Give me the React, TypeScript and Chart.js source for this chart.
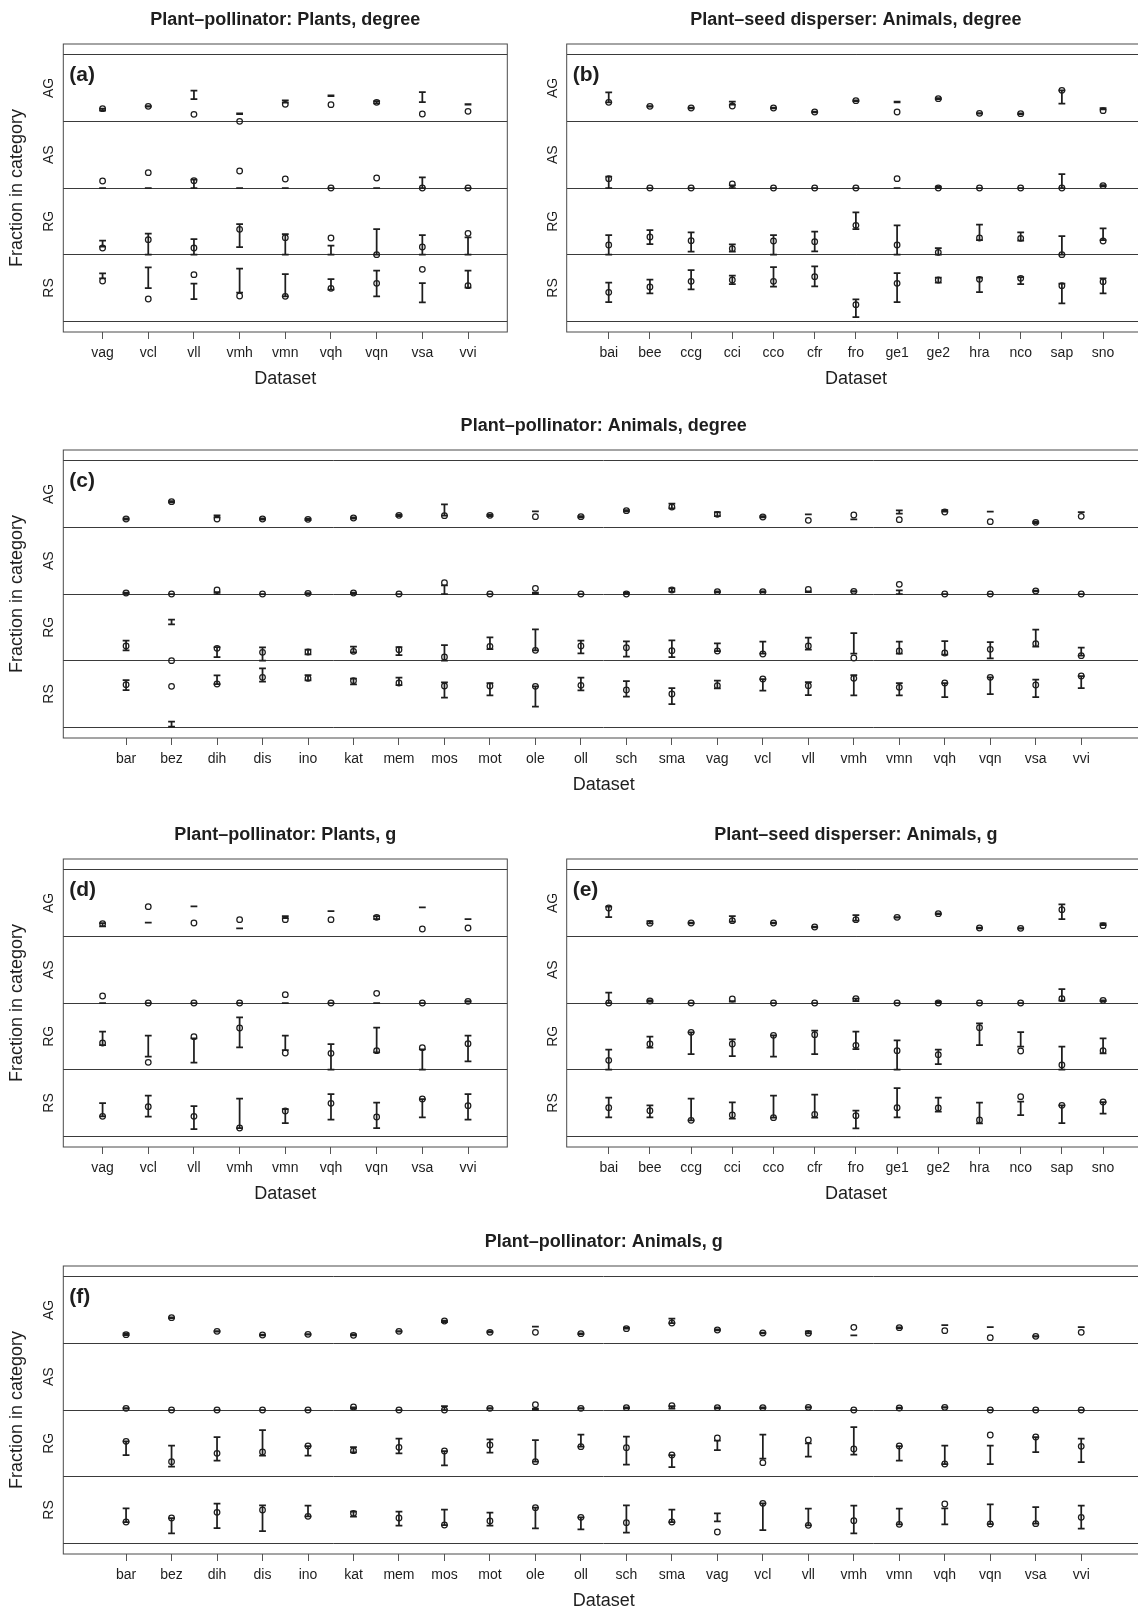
import React, { useEffect, useRef } from "react";
import { Chart, registerables } from "chart.js";

Chart.register(...registerables);

const FONT = "'Liberation Sans', Arial, Helvetica, sans-serif";
const INK = "#1e1e1e";
const LINE = "#3a3a3a";

// ---------- Panel (a): Plant-pollinator, Plants, degree ----------
const aCats = ["vag", "vcl", "vll", "vmh", "vmn", "vqh", "vqn", "vsa", "vvi"];
const aAGobs = [0.19, 0.225, 0.105, 0.0, 0.255, 0.25, 0.285, 0.11, 0.15];
const aAGlo = [0.16, 0.22, 0.335, 0.11, 0.28, 0.38, 0.27, 0.29, 0.25];
const aAGhi = [0.19, 0.23, 0.46, 0.12, 0.315, 0.39, 0.305, 0.44, 0.26];
const aASobs = [0.105, 0.23, 0.11, 0.255, 0.135, 0, 0.15, 0, 0];
const aASlo = [0, 0, 0, 0, 0, 0, 0, 0, 0];
const aAShi = [0, 0, 0.125, 0, 0, 0, 0, 0.16, 0];
const aRGobs = [0.1, 0.225, 0.1, 0.38, 0.255, 0.25, 0, 0.115, 0.32];
const aRGlo = [0.12, 0, 0, 0.115, 0, 0, 0, 0, 0];
const aRGhi = [0.21, 0.315, 0.235, 0.46, 0.31, 0.135, 0.385, 0.295, 0.26];
const aRSobs = [0.605, 0.335, 0.7, 0.38, 0.375, 0.495, 0.57, 0.78, 0.535];
const aRSlo = [0.645, 0.5, 0.335, 0.43, 0.375, 0.475, 0.375, 0.285, 0.505];
const aRShi = [0.72, 0.81, 0.565, 0.79, 0.71, 0.635, 0.76, 0.575, 0.76];

// ---------- Panel (b): Plant-seed disperser, Animals, degree ----------
const bCats = ["bai", "bee", "ccg", "cci", "cco", "cfr", "fro", "ge1", "ge2", "hra", "nco", "sap", "sno"];
const bAGobs = [0.285, 0.225, 0.2, 0.23, 0.2, 0.14, 0.31, 0.14, 0.34, 0.12, 0.115, 0.465, 0.16];
const bAGlo = [0.285, 0.22, 0.195, 0.25, 0.195, 0.135, 0.305, 0.285, 0.335, 0.115, 0.11, 0.265, 0.18];
const bAGhi = [0.435, 0.23, 0.205, 0.295, 0.205, 0.145, 0.315, 0.295, 0.35, 0.125, 0.12, 0.465, 0.2];
const bASobs = [0.14, 0, 0, 0.06, 0, 0, 0, 0.14, 0, 0, 0, 0, 0.035];
const bASlo = [0, 0, 0, 0, 0, 0, 0, 0, 0, 0, 0, 0, 0.03];
const bAShi = [0.17, 0, 0, 0.04, 0, 0, 0, 0, 0.02, 0, 0, 0.21, 0.045];
const bRGobs = [0.145, 0.265, 0.21, 0.09, 0.205, 0.195, 0.44, 0.145, 0.035, 0.25, 0.245, 0, 0.205];
const bRGlo = [0, 0.16, 0.045, 0.045, 0, 0.05, 0.385, 0, 0, 0.22, 0.21, 0, 0.22];
const bRGhi = [0.295, 0.37, 0.335, 0.155, 0.295, 0.345, 0.635, 0.44, 0.1, 0.45, 0.335, 0.28, 0.395];
const bRSobs = [0.435, 0.515, 0.6, 0.62, 0.6, 0.67, 0.25, 0.57, 0.62, 0.63, 0.645, 0.535, 0.595];
const bRSlo = [0.29, 0.42, 0.48, 0.56, 0.52, 0.525, 0.065, 0.29, 0.58, 0.44, 0.56, 0.27, 0.42];
const bRShi = [0.58, 0.625, 0.77, 0.685, 0.815, 0.825, 0.33, 0.725, 0.655, 0.655, 0.665, 0.565, 0.645];

// ---------- Panel (c): Plant-pollinator, Animals, degree ----------
const cCats = ["bar", "bez", "dih", "dis", "ino", "kat", "mem", "mos", "mot", "ole", "oll", "sch", "sma", "vag", "vcl", "vll", "vmh", "vmn", "vqh", "vqn", "vsa", "vvi"];
const cAGobs = [0.125, 0.385, 0.125, 0.125, 0.12, 0.14, 0.18, 0.175, 0.18, 0.16, 0.16, 0.25, 0.305, 0.195, 0.155, 0.105, 0.185, 0.115, 0.23, 0.085, 0.075, 0.165];
const cAGlo = [0.115, 0.375, 0.15, 0.115, 0.11, 0.13, 0.17, 0.175, 0.17, 0.24, 0.15, 0.24, 0.285, 0.17, 0.15, 0.195, 0.12, 0.205, 0.235, 0.235, 0.065, 0.23];
const cAGhi = [0.135, 0.395, 0.18, 0.135, 0.13, 0.15, 0.19, 0.345, 0.19, 0.24, 0.17, 0.26, 0.355, 0.23, 0.17, 0.195, 0.12, 0.255, 0.26, 0.235, 0.085, 0.23];
const cASobs = [0.015, 0, 0.06, 0, 0.01, 0.015, 0, 0.17, 0, 0.085, 0, 0, 0.06, 0.035, 0.035, 0.07, 0.04, 0.145, 0, 0, 0.045, 0];
const cASlo = [0.005, 0, 0, 0, 0, 0.005, 0, 0, 0, 0, 0, 0, 0.035, 0.03, 0.03, 0.03, 0.035, 0, 0, 0, 0.04, 0];
const cAShi = [0.02, 0, 0.03, 0, 0.015, 0.02, 0, 0.13, 0, 0.02, 0, 0.02, 0.085, 0.04, 0.04, 0.04, 0.045, 0.055, 0, 0, 0.05, 0];
const cRGobs = [0.22, 0, 0.185, 0.125, 0.13, 0.14, 0.165, 0.055, 0.215, 0.155, 0.22, 0.195, 0.15, 0.145, 0.1, 0.22, 0.04, 0.145, 0.115, 0.17, 0.255, 0.075];
const cRGlo = [0.155, 0.545, 0.055, 0, 0.095, 0.125, 0.085, 0, 0.175, 0.155, 0.11, 0.06, 0.055, 0.145, 0.105, 0.165, 0.105, 0.105, 0.09, 0.035, 0.21, 0.075];
const cRGhi = [0.3, 0.615, 0.205, 0.2, 0.165, 0.21, 0.205, 0.235, 0.35, 0.47, 0.3, 0.29, 0.305, 0.26, 0.285, 0.345, 0.415, 0.285, 0.295, 0.28, 0.465, 0.195];
const cRSobs = [0.64, 0.615, 0.65, 0.75, 0.735, 0.7, 0.665, 0.62, 0.62, 0.615, 0.63, 0.56, 0.5, 0.625, 0.725, 0.625, 0.735, 0.6, 0.665, 0.75, 0.635, 0.77];
const cRSlo = [0.56, 0.01, 0.65, 0.685, 0.705, 0.645, 0.635, 0.445, 0.48, 0.31, 0.555, 0.46, 0.35, 0.585, 0.55, 0.485, 0.48, 0.48, 0.455, 0.5, 0.455, 0.59];
const cRShi = [0.71, 0.085, 0.78, 0.885, 0.785, 0.73, 0.745, 0.675, 0.665, 0.615, 0.745, 0.695, 0.59, 0.7, 0.725, 0.68, 0.785, 0.665, 0.665, 0.75, 0.715, 0.77];

// ---------- Panel (d): Plant-pollinator, Plants, g ----------
const dCats = ["vag", "vcl", "vll", "vmh", "vmn", "vqh", "vqn", "vsa", "vvi"];
const dAGobs = [0.19, 0.445, 0.2, 0.25, 0.25, 0.25, 0.285, 0.11, 0.125];
const dAGlo = [0.15, 0.205, 0.45, 0.12, 0.275, 0.38, 0.26, 0.435, 0.26];
const dAGhi = [0.2, 0.205, 0.45, 0.12, 0.305, 0.38, 0.305, 0.435, 0.26];
const dASobs = [0.105, 0, 0, 0, 0.125, 0, 0.145, 0, 0.025];
const dASlo = [0, 0, 0, 0, 0, 0, 0, 0, 0.02];
const dAShi = [0, 0, 0, 0, 0, 0, 0, 0, 0.03];
const dRGobs = [0.4, 0.11, 0.495, 0.625, 0.25, 0.245, 0.285, 0.33, 0.39];
const dRGlo = [0.37, 0.195, 0.105, 0.335, 0.295, 0, 0.26, 0, 0.125];
const dRGhi = [0.57, 0.51, 0.47, 0.785, 0.51, 0.385, 0.63, 0.305, 0.51];
const dRSobs = [0.3, 0.445, 0.3, 0.125, 0.38, 0.495, 0.29, 0.56, 0.46];
const dRSlo = [0.3, 0.295, 0.11, 0.125, 0.2, 0.25, 0.125, 0.285, 0.25];
const dRShi = [0.5, 0.61, 0.455, 0.565, 0.41, 0.635, 0.505, 0.56, 0.635];

// ---------- Panel (e): Plant-seed disperser, Animals, g ----------
const eCats = ["bai", "bee", "ccg", "cci", "cco", "cfr", "fro", "ge1", "ge2", "hra", "nco", "sap", "sno"];
const eAGobs = [0.425, 0.195, 0.2, 0.235, 0.2, 0.14, 0.25, 0.285, 0.34, 0.125, 0.12, 0.4, 0.16];
const eAGlo = [0.29, 0.195, 0.195, 0.22, 0.195, 0.135, 0.235, 0.28, 0.335, 0.12, 0.115, 0.26, 0.17];
const eAGhi = [0.445, 0.23, 0.205, 0.305, 0.205, 0.145, 0.32, 0.29, 0.345, 0.13, 0.125, 0.48, 0.195];
const eASobs = [0, 0.03, 0, 0.06, 0, 0, 0.065, 0, 0, 0, 0, 0.065, 0.04];
const eASlo = [0, 0.02, 0, 0.02, 0, 0, 0.03, 0, 0, 0, 0, 0.035, 0.03];
const eAShi = [0.155, 0.04, 0, 0.03, 0, 0, 0.065, 0, 0.02, 0, 0, 0.21, 0.04];
const eRGobs = [0.14, 0.385, 0.56, 0.385, 0.515, 0.525, 0.365, 0.285, 0.225, 0.63, 0.28, 0.07, 0.285];
const eRGlo = [0, 0.33, 0.235, 0.205, 0.195, 0.235, 0.31, 0, 0.085, 0.37, 0.345, 0, 0.245];
const eRGhi = [0.3, 0.495, 0.56, 0.455, 0.515, 0.585, 0.57, 0.44, 0.3, 0.695, 0.565, 0.345, 0.47];
const eRSobs = [0.43, 0.385, 0.24, 0.32, 0.28, 0.33, 0.31, 0.43, 0.425, 0.245, 0.595, 0.465, 0.515];
const eRSlo = [0.285, 0.285, 0.24, 0.265, 0.28, 0.28, 0.12, 0.285, 0.37, 0.195, 0.32, 0.2, 0.34];
const eRShi = [0.58, 0.465, 0.565, 0.51, 0.61, 0.625, 0.385, 0.725, 0.58, 0.505, 0.52, 0.465, 0.515];

// ---------- Panel (f): Plant-pollinator, Animals, g ----------
const fCats = ["bar", "bez", "dih", "dis", "ino", "kat", "mem", "mos", "mot", "ole", "oll", "sch", "sma", "vag", "vcl", "vll", "vmh", "vmn", "vqh", "vqn", "vsa", "vvi"];
const fAGobs = [0.13, 0.385, 0.18, 0.125, 0.135, 0.12, 0.18, 0.335, 0.165, 0.165, 0.145, 0.22, 0.305, 0.2, 0.155, 0.15, 0.24, 0.235, 0.19, 0.085, 0.105, 0.165];
const fAGlo = [0.125, 0.38, 0.175, 0.12, 0.13, 0.12, 0.175, 0.32, 0.165, 0.25, 0.14, 0.22, 0.305, 0.195, 0.15, 0.15, 0.12, 0.23, 0.275, 0.245, 0.1, 0.245];
const fAGhi = [0.15, 0.39, 0.185, 0.13, 0.14, 0.135, 0.185, 0.34, 0.18, 0.25, 0.15, 0.235, 0.37, 0.21, 0.16, 0.18, 0.12, 0.24, 0.275, 0.245, 0.11, 0.245];
const fASobs = [0.025, 0, 0, 0, 0, 0.045, 0, 0, 0.025, 0.08, 0.025, 0.035, 0.065, 0.035, 0.035, 0.04, 0, 0.03, 0.04, 0, 0, 0];
const fASlo = [0.02, 0, 0, 0, 0, 0.02, 0, 0, 0.02, 0, 0.02, 0.03, 0.02, 0.03, 0.03, 0.035, 0, 0.025, 0.035, 0, 0, 0];
const fAShi = [0.03, 0, 0, 0, 0, 0.04, 0, 0.06, 0.03, 0.02, 0.03, 0.04, 0.06, 0.04, 0.04, 0.045, 0, 0.035, 0.045, 0, 0, 0];
const fRGobs = [0.53, 0.225, 0.35, 0.37, 0.46, 0.39, 0.44, 0.385, 0.475, 0.225, 0.45, 0.435, 0.325, 0.58, 0.21, 0.55, 0.415, 0.46, 0.19, 0.625, 0.595, 0.455];
const fRGlo = [0.325, 0.15, 0.24, 0.315, 0.315, 0.365, 0.35, 0.17, 0.36, 0.225, 0.45, 0.18, 0.145, 0.4, 0.27, 0.3, 0.33, 0.24, 0.19, 0.19, 0.37, 0.22];
const fRGhi = [0.53, 0.465, 0.595, 0.7, 0.46, 0.445, 0.57, 0.385, 0.56, 0.55, 0.63, 0.6, 0.325, 0.54, 0.63, 0.5, 0.745, 0.46, 0.465, 0.465, 0.595, 0.57];
const fRSobs = [0.32, 0.38, 0.465, 0.5, 0.405, 0.45, 0.38, 0.275, 0.335, 0.535, 0.39, 0.31, 0.32, 0.17, 0.6, 0.27, 0.34, 0.285, 0.59, 0.29, 0.295, 0.39];
const fRSlo = [0.32, 0.15, 0.23, 0.185, 0.405, 0.4, 0.265, 0.275, 0.265, 0.225, 0.21, 0.16, 0.32, 0.33, 0.2, 0.27, 0.15, 0.285, 0.285, 0.29, 0.295, 0.22];
const fRShi = [0.525, 0.38, 0.595, 0.57, 0.565, 0.475, 0.475, 0.505, 0.46, 0.535, 0.39, 0.57, 0.505, 0.45, 0.6, 0.52, 0.565, 0.52, 0.525, 0.585, 0.545, 0.565];

// Bands from bottom (offset 0) to top (offset 3)
const BAND_NAMES = ["RS", "RG", "AS", "AG"];

type Band = { obs: number[]; lo: number[]; hi: number[] };

type PanelSpec = {
  title: string;
  letter: string;
  cats: string[];
  bands: Band[]; // order RS, RG, AS, AG
  canvasLeft: number;
  canvasTop: number;
  canvasWidth: number;
  boxLeft: number;
  boxRight: number;
  yTitle: boolean;
};

const CANVAS_H = 400;
const BOX_TOP = 44;
const BOX_BOTTOM = 332;
const ROWS = [0, 406, 815, 1222];

const PANELS: PanelSpec[] = [
  {
    title: "Plant\u2013pollinator: Plants, degree", letter: "(a)", cats: aCats,
    bands: [
      { obs: aRSobs, lo: aRSlo, hi: aRShi }, { obs: aRGobs, lo: aRGlo, hi: aRGhi },
      { obs: aASobs, lo: aASlo, hi: aAShi }, { obs: aAGobs, lo: aAGlo, hi: aAGhi },
    ],
    canvasLeft: 0, canvasTop: ROWS[0], canvasWidth: 540, boxLeft: 63.3, boxRight: 507.3, yTitle: true,
  },
  {
    title: "Plant\u2013seed disperser: Animals, degree", letter: "(b)", cats: bCats,
    bands: [
      { obs: bRSobs, lo: bRSlo, hi: bRShi }, { obs: bRGobs, lo: bRGlo, hi: bRGhi },
      { obs: bASobs, lo: bASlo, hi: bAShi }, { obs: bAGobs, lo: bAGlo, hi: bAGhi },
    ],
    canvasLeft: 530, canvasTop: ROWS[0], canvasWidth: 640, boxLeft: 566.7, boxRight: 1145.1, yTitle: false,
  },
  {
    title: "Plant\u2013pollinator: Animals, degree", letter: "(c)", cats: cCats,
    bands: [
      { obs: cRSobs, lo: cRSlo, hi: cRShi }, { obs: cRGobs, lo: cRGlo, hi: cRGhi },
      { obs: cASobs, lo: cASlo, hi: cAShi }, { obs: cAGobs, lo: cAGlo, hi: cAGhi },
    ],
    canvasLeft: 0, canvasTop: ROWS[1], canvasWidth: 1170, boxLeft: 63.3, boxRight: 1144, yTitle: true,
  },
  {
    title: "Plant\u2013pollinator: Plants, g", letter: "(d)", cats: dCats,
    bands: [
      { obs: dRSobs, lo: dRSlo, hi: dRShi }, { obs: dRGobs, lo: dRGlo, hi: dRGhi },
      { obs: dASobs, lo: dASlo, hi: dAShi }, { obs: dAGobs, lo: dAGlo, hi: dAGhi },
    ],
    canvasLeft: 0, canvasTop: ROWS[2], canvasWidth: 540, boxLeft: 63.3, boxRight: 507.3, yTitle: true,
  },
  {
    title: "Plant\u2013seed disperser: Animals, g", letter: "(e)", cats: eCats,
    bands: [
      { obs: eRSobs, lo: eRSlo, hi: eRShi }, { obs: eRGobs, lo: eRGlo, hi: eRGhi },
      { obs: eASobs, lo: eASlo, hi: eAShi }, { obs: eAGobs, lo: eAGlo, hi: eAGhi },
    ],
    canvasLeft: 530, canvasTop: ROWS[2], canvasWidth: 640, boxLeft: 566.7, boxRight: 1145.1, yTitle: false,
  },
  {
    title: "Plant\u2013pollinator: Animals, g", letter: "(f)", cats: fCats,
    bands: [
      { obs: fRSobs, lo: fRSlo, hi: fRShi }, { obs: fRGobs, lo: fRGlo, hi: fRGhi },
      { obs: fASobs, lo: fASlo, hi: fAShi }, { obs: fAGobs, lo: fAGlo, hi: fAGhi },
    ],
    canvasLeft: 0, canvasTop: ROWS[3], canvasWidth: 1170, boxLeft: 63.3, boxRight: 1144, yTitle: true,
  },
];

function Panel({ spec }: { spec: PanelSpec }) {
  const ref = useRef<HTMLCanvasElement | null>(null);

  useEffect(() => {
    if (!ref.current) return;
    const cats = spec.cats;
    const n = cats.length;
    const xmin = 0.5 - 0.04 * n;
    const xmax = n + 0.5 + 0.04 * n;

    const points: { x: number; y: number }[] = [];
    spec.bands.forEach((b, k) => {
      b.obs.forEach((v, i) => points.push({ x: i + 1, y: v + k }));
    });

    const errorBars = {
      id: "errorBars",
      beforeDatasetsDraw(chart: any) {
        const { ctx, chartArea } = chart;
        const xs = chart.scales.x;
        const ys = chart.scales.y;
        ctx.save();
        ctx.beginPath();
        ctx.rect(chartArea.left, chartArea.top, chartArea.right - chartArea.left, chartArea.bottom - chartArea.top);
        ctx.clip();
        ctx.strokeStyle = INK;
        ctx.lineWidth = 1.75;
        ctx.lineCap = "butt";
        const cap = 3.4;
        spec.bands.forEach((b, k) => {
          b.lo.forEach((lo, i) => {
            const hi = b.hi[i];
            const x = xs.getPixelForValue(i + 1);
            const y1 = ys.getPixelForValue(lo + k);
            const y2 = ys.getPixelForValue(hi + k);
            ctx.beginPath();
            ctx.moveTo(x, y1);
            ctx.lineTo(x, y2);
            ctx.moveTo(x - cap, y1);
            ctx.lineTo(x + cap, y1);
            ctx.moveTo(x - cap, y2);
            ctx.lineTo(x + cap, y2);
            ctx.stroke();
          });
        });
        ctx.restore();
      },
    };

    const decorations = {
      id: "decorations",
      afterDraw(chart: any) {
        const { ctx, chartArea } = chart;
        const ys = chart.scales.y;
        const ca = chartArea;
        const cx = (ca.left + ca.right) / 2;
        ctx.save();
        // plot box
        ctx.strokeStyle = "#4a4a4a";
        ctx.lineWidth = 1;
        ctx.strokeRect(ca.left, ca.top, ca.right - ca.left, ca.bottom - ca.top);
        ctx.fillStyle = INK;
        // title
        ctx.font = `bold 18px ${FONT}`;
        ctx.textAlign = "center";
        ctx.textBaseline = "alphabetic";
        ctx.fillText(spec.title, cx, ca.top - 19);
        // panel letter
        ctx.font = `bold 21px ${FONT}`;
        ctx.textAlign = "left";
        ctx.fillText(spec.letter, ca.left + 6, ca.top + 36.5);
        // x axis title
        ctx.font = `18px ${FONT}`;
        ctx.textAlign = "center";
        ctx.fillText("Dataset", cx, ca.bottom + 52);
        // band labels
        ctx.font = `14px ${FONT}`;
        BAND_NAMES.forEach((name, k) => {
          const y = ys.getPixelForValue(k + 0.5);
          ctx.save();
          ctx.translate(ca.left - 10, y);
          ctx.rotate(-Math.PI / 2);
          ctx.textAlign = "center";
          ctx.textBaseline = "alphabetic";
          ctx.fillText(name, 0, 0);
          ctx.restore();
        });
        if (spec.yTitle) {
          ctx.font = `18px ${FONT}`;
          ctx.save();
          ctx.translate(ca.left - 41, ys.getPixelForValue(2));
          ctx.rotate(-Math.PI / 2);
          ctx.textAlign = "center";
          ctx.textBaseline = "alphabetic";
          ctx.fillText("Fraction in category", 0, 0);
          ctx.restore();
        }
        ctx.restore();
      },
    };

    const padLeft = spec.boxLeft - spec.canvasLeft;
    const padRight = spec.canvasWidth - (spec.boxRight - spec.canvasLeft);

    const chart = new Chart(ref.current, {
      type: "scatter",
      data: {
        datasets: [
          {
            data: points,
            pointRadius: 2.8,
            pointHoverRadius: 2.8,
            pointBorderWidth: 1.25,
            pointBackgroundColor: "rgba(0,0,0,0)",
            pointBorderColor: INK,
            showLine: false,
          },
        ],
      },
      options: {
        animation: false,
        responsive: false,
        maintainAspectRatio: false,
        events: [],
        layout: { padding: { left: padLeft, right: padRight, top: BOX_TOP, bottom: 0 } },
        plugins: { legend: { display: false }, tooltip: { enabled: false }, title: { display: false } },
        scales: {
          x: {
            type: "linear",
            position: "bottom",
            min: xmin,
            max: xmax,
            afterBuildTicks: (s: any) => {
              s.ticks = cats.map((_, i) => ({ value: i + 1 }));
            },
            afterFit: (s: any) => {
              s.height = CANVAS_H - BOX_BOTTOM;
            },
            ticks: {
              autoSkip: false,
              maxRotation: 0,
              minRotation: 0,
              padding: 6,
              color: INK,
              font: { family: FONT, size: 14 },
              callback: (v: any) => cats[Math.round(Number(v)) - 1] ?? "",
            },
            grid: {
              drawOnChartArea: false,
              drawTicks: true,
              tickLength: 7,
              tickColor: "#555",
              tickWidth: 1,
            },
            border: { display: false },
          },
          y: {
            type: "linear",
            position: "left",
            min: -0.16,
            max: 4.16,
            afterBuildTicks: (s: any) => {
              s.ticks = [0, 1, 2, 3, 4].map((v) => ({ value: v }));
            },
            afterFit: (s: any) => {
              s.width = 0;
            },
            ticks: { display: false },
            grid: { color: LINE, lineWidth: 1, drawTicks: false },
            border: { display: false },
          },
        },
      },
      plugins: [errorBars, decorations],
    } as any);

    return () => chart.destroy();
  }, [spec]);

  return (
    <canvas
      ref={ref}
      width={spec.canvasWidth}
      height={CANVAS_H}
      style={{
        position: "absolute",
        left: spec.canvasLeft,
        top: spec.canvasTop,
        width: spec.canvasWidth,
        height: CANVAS_H,
      }}
    />
  );
}

export default function App() {
  return (
    <div
      style={{
        position: "absolute",
        left: 0,
        top: 0,
        width: 1138,
        height: 1610,
        overflow: "hidden",
        background: "#ffffff",
      }}
    >
      {PANELS.map((p) => (
        <Panel key={p.letter} spec={p} />
      ))}
    </div>
  );
}
